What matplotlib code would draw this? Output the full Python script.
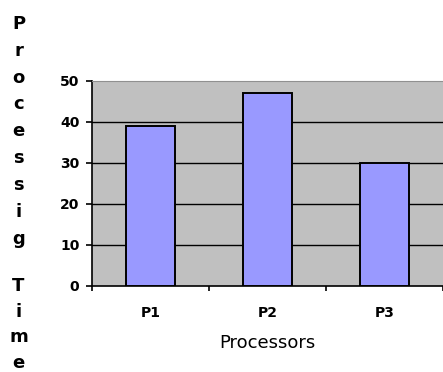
import matplotlib.pyplot as plt
import numpy as np

processors = ['P1', 'P2', 'P3']
times = [39, 47, 30]
ylabel = 'Processig Time'
xlabel = 'Processors'
yticks = [0, 10, 20, 30, 40, 50]

fig = plt.figure(figsize=(4.43, 3.72), dpi=100)
ax = fig.add_axes([92 / 443, (372 - 285.5) / 372, 351 / 443, 204.5 / 372])

x = np.arange(len(processors))
ax.set_facecolor('#c0c0c0')
ax.bar(x, times, width=0.42, color='#9999ff', edgecolor='black', linewidth=1.4, zorder=3)

ax.set_xlim(-0.5, len(processors) - 0.5)
ax.set_ylim(0, 50)
ax.set_yticks(yticks)
ax.set_yticklabels([str(t) for t in yticks], fontsize=10, fontweight='bold')
ax.yaxis.grid(True, color='black', linewidth=1.0, zorder=1)
ax.set_axisbelow(True)
ax.yaxis.get_gridlines()[-1].set_visible(False)
ax.yaxis.get_gridlines()[0].set_visible(False)

# category labels centred, ticks on the boundaries
ax.set_xticks(x)
ax.set_xticklabels(processors, fontsize=10, fontweight='bold')
ax.tick_params(axis='x', which='major', length=0, pad=15)
ax.set_xticks(np.arange(len(processors) + 1) - 0.5, minor=True)
ax.tick_params(axis='x', which='minor', length=3.5, width=1.2, direction='out')
ax.tick_params(axis='y', length=4, width=1.2, pad=5)

for side in ['left', 'bottom']:
    ax.spines[side].set_linewidth(1.2)
ax.spines['right'].set_visible(False)
ax.spines['top'].set_color('#909090')
ax.spines['top'].set_linewidth(0.8)

ax.set_xlabel(xlabel, fontsize=13, labelpad=10)

# y label written as stacked letters, one column per word
for word, top, ls in zip(ylabel.split(), [15, 277], [1.63, 1.55]):
    fig.text(18.5 / 443, 1 - top / 372, '\n'.join(word),
             ha='center', va='top', fontsize=13, fontweight='bold',
             linespacing=ls, multialignment='center')

fig.savefig('out.png', dpi=100)
